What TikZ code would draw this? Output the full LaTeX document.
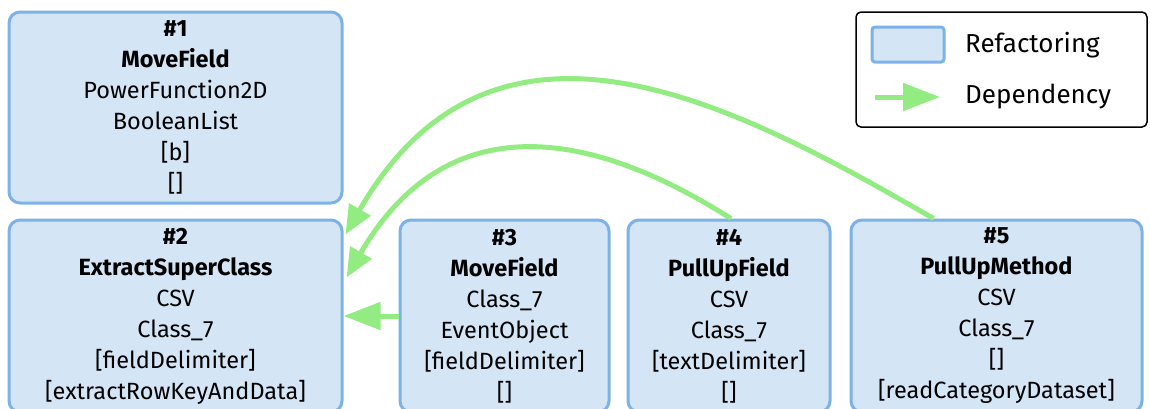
\documentclass[tikz,border=0pt]{standalone}
\usepackage{fontspec}
\setmainfont{Fira Sans}
\usetikzlibrary{arrows.meta,positioning}

\definecolor{reffill}{RGB}{212,229,246}
\definecolor{refline}{RGB}{124,178,232}
\definecolor{depgreen}{RGB}{146,236,130}

\tikzset{
  refbox/.style={draw=refline, fill=reffill, line width=3pt, rounded corners=11pt,
    align=center, inner sep=2pt, font=\fontsize{23.5}{31}\selectfont},
  legtext/.style={anchor=west, inner sep=0pt, font=\fontsize{26}{31}\selectfont},
  dep/.style={draw=depgreen, line width=5pt, -{Triangle[length=37pt,width=27pt]}},
  depcurve/.style={dep, -{Triangle[length=29pt,width=24pt]}},
}

\begin{document}
\begin{tikzpicture}[x=1pt,y=-1pt]
  \useasboundingbox (0,0) rectangle (1150,408);

  % refactorings
  \node [refbox, minimum width=333pt, minimum height=191pt] (b1) at (175.5,107.5)
    {\textbf{\#1}\\\textbf{MoveField}\\PowerFunction2D\\BooleanList\\{[b]}\\{[]}};
  \node [refbox, minimum width=333pt, minimum height=192pt] (b2) at (175.5,316)
    {\textbf{\#2}\\\textbf{ExtractSuperClass}\\CSV\\Class\_7\\{[fieldDelimiter]}\\{[extractRowKeyAndData]}};
  \node [refbox, minimum width=209pt, minimum height=192pt] (b3) at (504.5,316)
    {\textbf{\#3}\\\textbf{MoveField}\\Class\_7\\EventObject\\{[fieldDelimiter]}\\{[]}};
  \node [refbox, minimum width=202pt, minimum height=192pt] (b4) at (729,316)
    {\textbf{\#4}\\\textbf{PullUpField}\\CSV\\Class\_7\\{[textDelimiter]}\\{[]}};
  \node [refbox, minimum width=291pt, minimum height=192pt] (b5) at (996.5,316)
    {\textbf{\#5}\\\textbf{PullUpMethod}\\CSV\\Class\_7\\{[]}\\{[readCategoryDataset]}};

  % dependencies
  \draw [dep] (b3.west) -- (b2.east);
  \draw [depcurve] ([xshift=2pt]b4.north) .. controls +(-72,-45) and +(123,-212) .. ([xshift=3pt,yshift=-59pt]b2.north east);
  \draw [depcurve] ([xshift=-63pt]b5.north) .. controls +(-199,-115) and +(149,-259) .. ([xshift=2pt,yshift=-16pt]b2.north east);

  % legend
  \node [draw=black, line width=1.5pt, rounded corners=5pt, minimum width=291pt, minimum height=115pt] (legend) at (1001.5,69.5) {};
  \node [draw=refline, fill=reffill, line width=3pt, rounded corners=3pt, minimum width=72pt, minimum height=35pt] (swatch) at (908,44.5) {};
  \node [legtext] (lgref) at (965,45) {Refactoring};
  \coordinate (lgA) at (875,97);
  \coordinate (lgB) at (940,97);
  \draw [dep] (lgA) -- (lgB);
  \node [legtext] (lgdep) at (965,97) {Dependency};
\end{tikzpicture}
\end{document}
